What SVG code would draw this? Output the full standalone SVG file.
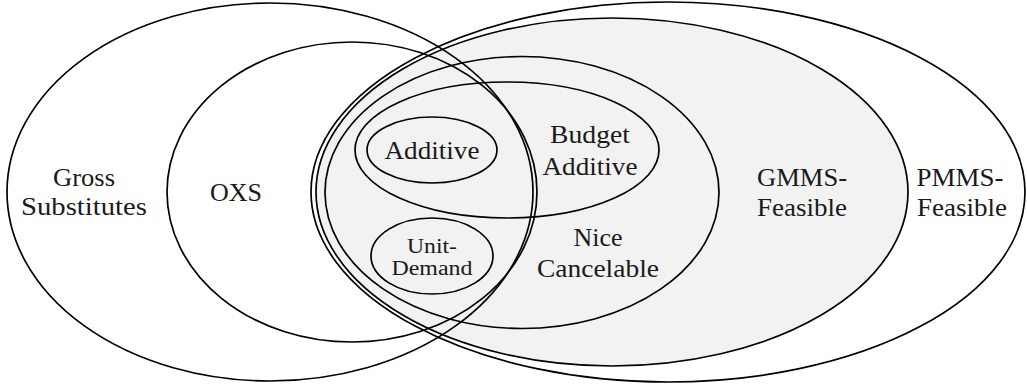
<svg xmlns="http://www.w3.org/2000/svg" width="1027" height="392" viewBox="0 0 1027 392">
<style>
.s{fill:none;stroke:#000;stroke-width:1.7}
.t{font-family:"Liberation Serif","Times New Roman",serif;font-size:26px;fill:#1a1a1a;text-anchor:middle}
.sm{font-size:20px}
</style>
<rect width="1027" height="392" fill="#fff"/>
<g id="fills">
<ellipse cx="612" cy="192" rx="296" ry="174" fill="#f2f2f2"/>
</g>
<g id="pmms"><ellipse class="s" cx="668" cy="192" rx="357" ry="190"/><text class="t" x="960" y="186" textLength="87" lengthAdjust="spacingAndGlyphs">PMMS-</text><text class="t" x="962" y="216" textLength="90" lengthAdjust="spacingAndGlyphs">Feasible</text></g>
<g id="gmms"><ellipse class="s" cx="612" cy="192" rx="296" ry="174"/><text class="t" x="802" y="186" textLength="90" lengthAdjust="spacingAndGlyphs">GMMS-</text><text class="t" x="802" y="216" textLength="90" lengthAdjust="spacingAndGlyphs">Feasible</text></g>
<g id="nice"><ellipse class="s" cx="522" cy="192.5" rx="197" ry="136"/><text class="t" x="598" y="246" textLength="49" lengthAdjust="spacingAndGlyphs">Nice</text><text class="t" x="598" y="277" textLength="122" lengthAdjust="spacingAndGlyphs">Cancelable</text></g>
<g id="budget"><ellipse class="s" cx="507" cy="150" rx="152" ry="68"/><text class="t" x="590" y="143" textLength="80" lengthAdjust="spacingAndGlyphs">Budget</text><text class="t" x="590" y="175" textLength="95" lengthAdjust="spacingAndGlyphs">Additive</text></g>
<g id="additive"><ellipse class="s" cx="432" cy="150" rx="65" ry="33"/><text class="t" x="432" y="159" textLength="95" lengthAdjust="spacingAndGlyphs">Additive</text></g>
<g id="unitdemand"><ellipse class="s" cx="432" cy="256" rx="61" ry="38"/><text class="t sm" x="432" y="253" textLength="50" lengthAdjust="spacingAndGlyphs">Unit-</text><text class="t sm" x="432" y="275" textLength="81" lengthAdjust="spacingAndGlyphs">Demand</text></g>
<g id="gs"><ellipse class="s" cx="270" cy="192" rx="263" ry="189"/><text class="t" x="84" y="186" textLength="62" lengthAdjust="spacingAndGlyphs">Gross</text><text class="t" x="84" y="215" textLength="126" lengthAdjust="spacingAndGlyphs">Substitutes</text></g>
<g id="oxs"><ellipse class="s" cx="352" cy="192" rx="185" ry="150"/><text class="t" x="236" y="201" textLength="52" lengthAdjust="spacingAndGlyphs">OXS</text></g>
<g id="connectors"></g>
</svg>
